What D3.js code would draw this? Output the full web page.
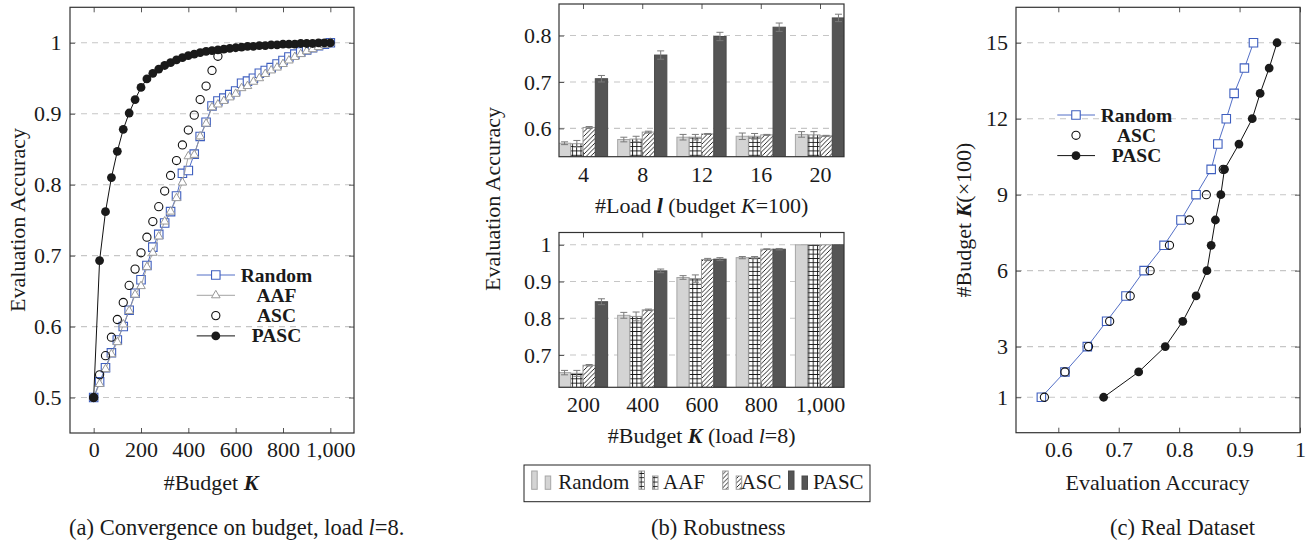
<!DOCTYPE html>
<html>
<head>
<meta charset="utf-8">
<script src="https://cdn.jsdelivr.net/npm/d3@7"></script>
<style>
  body { margin: 0; background: #fff; }
  svg text { font-family: "Liberation Serif", "Times New Roman", serif; fill: #1a1a1a; }
</style>
</head>
<body>
<div id="chart"></div>
<script>
// ---------- (a) convergence on budget ----------
const budgets = [0, 25, 50, 75, 100, 125, 150, 175, 200, 225, 250, 275, 300, 325, 350, 375, 400,
  425, 450, 475, 500, 525, 550, 575, 600, 625, 650, 675, 700, 725, 750, 775, 800, 825, 850, 875,
  900, 925, 950, 975, 1000];
const randomAcc = [0.5, 0.522, 0.542, 0.563, 0.581, 0.600, 0.623, 0.647, 0.666, 0.686, 0.712, 0.730,
  0.746, 0.762, 0.784, 0.816, 0.820, 0.843, 0.868, 0.888, 0.911, 0.918, 0.922, 0.927, 0.932, 0.943,
  0.946, 0.950, 0.957, 0.961, 0.965, 0.970, 0.975, 0.980, 0.984, 0.987, 0.990, 0.993, 0.996, 0.998, 1.0];
const aafAcc = [0.5, 0.519, 0.540, 0.561, 0.578, 0.603, 0.622, 0.645, 0.657, 0.684, 0.704, 0.727,
  0.748, 0.762, 0.781, 0.803, 0.840, 0.842, 0.868, 0.886, 0.909, 0.913, 0.918, 0.923, 0.928, 0.936,
  0.939, 0.945, 0.950, 0.956, 0.961, 0.965, 0.970, 0.975, 0.980, 0.984, 0.988, 0.991, 0.994, 0.997, 1.0];
const ascAcc = [0.5, 0.532, 0.559, 0.585, 0.610, 0.634, 0.658, 0.681, 0.704, 0.726, 0.748, 0.769,
  0.791, 0.813, 0.834, 0.856, 0.877, 0.898, 0.920, 0.939, 0.961, 0.981];
const pascAcc = [0.5, 0.693, 0.762, 0.810, 0.847, 0.878, 0.901, 0.920, 0.937, 0.949, 0.957, 0.963,
  0.968, 0.972, 0.976, 0.979, 0.982, 0.984, 0.986, 0.988, 0.989, 0.990, 0.991, 0.992, 0.993, 0.994,
  0.995, 0.995, 0.996, 0.996, 0.997, 0.997, 0.998, 0.998, 0.998, 0.999, 0.999, 0.999, 1.0, 1.0, 1.0];
const methods = ["Random", "AAF", "ASC", "PASC"];
const ticksAx = [0, 200, 400, 600, 800, 1000];
const ticksAy = [0.5, 0.6, 0.7, 0.8, 0.9, 1];

// ---------- (b) robustness ----------
const loads = ["4", "8", "12", "16", "20"];
const loadRandom = [0.568, 0.576, 0.581, 0.583, 0.587];
const loadAAF = [0.567, 0.577, 0.581, 0.583, 0.586];
const loadASC = [0.602, 0.592, 0.588, 0.586, 0.584];
const loadPASC = [0.707, 0.758, 0.798, 0.818, 0.838];
const loadErrRandom = [0.003, 0.005, 0.006, 0.007, 0.006];
const loadErrAAF = [0.007, 0.006, 0.006, 0.006, 0.007];
const loadErrASC = [0.002, 0.002, 0.001, 0.001, 0.001];
const loadErrPASC = [0.007, 0.009, 0.009, 0.009, 0.008];

const budgetCats = [200, 400, 600, 800, 1000];
const budRandom = [0.652, 0.808, 0.911, 0.965, 1.0];
const budAAF = [0.650, 0.805, 0.908, 0.965, 1.0];
const budASC = [0.672, 0.823, 0.960, 0.988, 1.0];
const budPASC = [0.845, 0.929, 0.961, 0.988, 1.0];
const budErrRandom = [0.006, 0.008, 0.005, 0.003, 0];
const budErrAAF = [0.008, 0.012, 0.010, 0.003, 0];
const budErrASC = [0.002, 0.002, 0.003, 0.001, 0];
const budErrPASC = [0.008, 0.005, 0.004, 0.002, 0];
const ticksBtop = [0.6, 0.7, 0.8];
const ticksBbot = [0.7, 0.8, 0.9, 1];

// ---------- (c) real dataset ----------
const realBudget = [1, 2, 3, 4, 5, 6, 7, 8, 9, 10, 11, 12, 13, 14, 15];
const realRandom = [0.572, 0.611, 0.648, 0.680, 0.712, 0.742, 0.775, 0.803, 0.828, 0.853, 0.864,
  0.878, 0.891, 0.908, 0.923];
const realASC = [0.577, 0.611, 0.650, 0.685, 0.719, 0.752, 0.784, 0.817, 0.845, 0.873];
const realPASC = [0.675, 0.733, 0.777, 0.806, 0.828, 0.846, 0.853, 0.860, 0.869, 0.875, 0.899,
  0.921, 0.934, 0.949, 0.962];
const ticksCx = [0.6, 0.7, 0.8, 0.9, 1];
const ticksCy = [1, 3, 6, 9, 12, 15];

const blue = "#3f5fbf";
const fs = 22;

const svg = d3.select("#chart").append("svg")
    .attr("width", 1311)
    .attr("height", 544)
    .style("background", "#fff");

const defs = svg.append("defs");
const pg = defs.append("pattern").attr("id", "gridPat")
    .attr("patternUnits", "userSpaceOnUse").attr("width", 4.3).attr("height", 4.3);
pg.append("rect").attr("width", 4.3).attr("height", 4.3).attr("fill", "#fff");
pg.append("path").attr("d", "M0,0.5H4.3M0.5,0V4.3").attr("stroke", "#111").attr("stroke-width", 0.9);
const ph = defs.append("pattern").attr("id", "hatchPat")
    .attr("patternUnits", "userSpaceOnUse").attr("width", 4.5).attr("height", 4.5);
ph.append("rect").attr("width", 4.5).attr("height", 4.5).attr("fill", "#fff");
ph.append("path").attr("d", "M-1,1L1,-1M0,4.5L4.5,0M3.5,5.5L5.5,3.5")
    .attr("stroke", "#111").attr("stroke-width", 0.9);

const fmt1 = d => d === 1 ? "1" : d3.format(".1f")(d);

function addGrid(g, x, y, yTicks) {
    const [xl, xr] = x.range();
    g.append("g").selectAll("line").data(yTicks).join("line")
        .attr("x1", xl).attr("x2", xr)
        .attr("y1", d => y(d)).attr("y2", d => y(d))
        .attr("stroke", "#c6c6c6").attr("stroke-width", 1.1)
        .attr("stroke-dasharray", "6,5");
}

function styleAxis(a) {
    a.select(".domain").remove();
    a.selectAll("line").attr("stroke", "#555");
    a.selectAll("text").attr("font-size", fs).attr("fill", "#1a1a1a");
}

function addFrame(g, x, y, xTicks, yTicks, xFmt, yFmt, xPad, yPad) {
    const [xl, xr] = x.range(), [yb, yt] = y.range();
    g.append("g").attr("transform", `translate(0,${yb})`)
        .call(d3.axisBottom(x).tickValues(xTicks).tickFormat(xFmt)
            .tickSizeInner(-5).tickSizeOuter(0).tickPadding(xPad))
        .call(styleAxis);
    g.append("g").attr("transform", `translate(0,${yt})`)
        .call(d3.axisTop(x).tickValues(xTicks).tickFormat("").tickSizeInner(-5).tickSizeOuter(0))
        .call(styleAxis);
    g.append("g").attr("transform", `translate(${xl},0)`)
        .call(d3.axisLeft(y).tickValues(yTicks).tickFormat(yFmt)
            .tickSizeInner(-5).tickSizeOuter(0).tickPadding(yPad))
        .call(styleAxis);
    g.append("g").attr("transform", `translate(${xr},0)`)
        .call(d3.axisRight(y).tickValues(yTicks).tickFormat("").tickSizeInner(-5).tickSizeOuter(0))
        .call(styleAxis);
    g.append("rect")
        .attr("x", xl).attr("y", yt).attr("width", xr - xl).attr("height", yb - yt)
        .attr("fill", "none").attr("stroke", "#333").attr("stroke-width", 1.2);
}

// rich text: parts = [[text, style], ...]
function richText(parent, parts) {
    parts.forEach(([t, st]) => {
        const s = parent.append("tspan").text(t);
        if (st === "bi") s.attr("font-weight", "bold").attr("font-style", "italic");
        if (st === "i") s.attr("font-style", "italic");
        if (st === "b") s.attr("font-weight", "bold");
    });
    return parent;
}

function label(x, y, parts, rotate, size) {
    const t = svg.append("text")
        .attr("text-anchor", "middle")
        .attr("font-size", size || fs)
        .attr("transform", `translate(${x},${y})` + (rotate ? " rotate(-90)" : ""));
    return richText(t, parts);
}

const sym = (type, size) => d3.symbol().type(type).size(size)();

// ======================= panel (a) =======================
const xA = d3.scaleLinear().domain([-100, 1100]).range([70, 354]);
const yA = d3.scaleLinear().domain([0.45, 1.05]).range([433, 7.3]);
const gA = svg.append("g");
addGrid(gA, xA, yA, ticksAy);

const lineA = d3.line().x(d => xA(d[0])).y(d => yA(d[1]));
const pts = arr => arr.map((v, i) => [budgets[i], v]);

// Random
gA.append("path").datum(pts(randomAcc)).attr("d", lineA)
    .attr("fill", "none").attr("stroke", blue).attr("stroke-width", 0.9);
gA.append("g").selectAll("path").data(pts(randomAcc)).join("path")
    .attr("transform", d => `translate(${xA(d[0])},${yA(d[1])})`)
    .attr("d", sym(d3.symbolSquare, 72))
    .attr("fill", "#fff").attr("stroke", blue).attr("stroke-width", 1.1);
// AAF
gA.append("path").datum(pts(aafAcc)).attr("d", lineA)
    .attr("fill", "none").attr("stroke", "#999").attr("stroke-width", 0.9);
gA.append("g").selectAll("path").data(pts(aafAcc)).join("path")
    .attr("transform", d => `translate(${xA(d[0])},${yA(d[1])})`)
    .attr("d", sym(d3.symbolTriangle, 32))
    .attr("fill", "#fff").attr("stroke", "#999").attr("stroke-width", 1);
// ASC
gA.append("g").selectAll("circle").data(pts(ascAcc)).join("circle")
    .attr("cx", d => xA(d[0])).attr("cy", d => yA(d[1])).attr("r", 4.1)
    .attr("fill", "none").attr("stroke", "#111").attr("stroke-width", 1.1);
// PASC
gA.append("path").datum(pts(pascAcc)).attr("d", lineA)
    .attr("fill", "none").attr("stroke", "#111").attr("stroke-width", 1);
gA.append("g").selectAll("circle").data(pts(pascAcc)).join("circle")
    .attr("cx", d => xA(d[0])).attr("cy", d => yA(d[1])).attr("r", 4.4)
    .attr("fill", "#1a1a1a");

addFrame(gA, xA, yA, ticksAx, ticksAy, d3.format(","), fmt1, 8.5, 8.5);

// legend (a)
const legA = svg.append("g");
methods.forEach((m, i) => {
    const ly = 275 + i * 20.3;
    const g = legA.append("g").attr("transform", `translate(0,${ly})`);
    if (m === "Random") {
        g.append("line").attr("x1", 196.7).attr("x2", 235).attr("stroke", blue).attr("stroke-width", 0.9);
        g.append("path").attr("transform", "translate(215.8,0)").attr("d", sym(d3.symbolSquare, 72))
            .attr("fill", "#fff").attr("stroke", blue).attr("stroke-width", 1.1);
    } else if (m === "AAF") {
        g.append("line").attr("x1", 196.7).attr("x2", 235).attr("stroke", "#999").attr("stroke-width", 0.9);
        g.append("path").attr("transform", "translate(215.8,0)").attr("d", sym(d3.symbolTriangle, 32))
            .attr("fill", "#fff").attr("stroke", "#999");
    } else if (m === "ASC") {
        g.append("circle").attr("cx", 215.8).attr("r", 4.1).attr("fill", "none")
            .attr("stroke", "#111").attr("stroke-width", 1.1);
    } else {
        g.append("line").attr("x1", 196.7).attr("x2", 235).attr("stroke", "#111");
        g.append("circle").attr("cx", 215.8).attr("r", 4.4).attr("fill", "#1a1a1a");
    }
    g.append("text").attr("x", 276.5).attr("y", 6.5).attr("text-anchor", "middle")
        .attr("font-size", 19.5).attr("font-weight", "bold").text(m);
});

label(25, 220, [["Evaluation Accuracy"]], true);
label(211, 490, [["#Budget "], ["K", "bi"]]);
label(236.7, 535, [["(a) Convergence on budget, load "], ["l", "i"], ["=8."]], false, 22.5);

// ======================= panel (b) =======================
const barStyles = [
    { fill: "#d4d4d4", stroke: "#a6a6a6" },
    { fill: "url(#gridPat)", stroke: "#9a9a9a" },
    { fill: "url(#hatchPat)", stroke: "#9a9a9a" },
    { fill: "#555", stroke: "#4a4a4a" }
];
const bw = 12.3;

function drawBars(g, x, y, cats, series, errs, clipId) {
    const yb = y.range()[0], yt = y.range()[1];
    const [xl, xr] = x.range();
    defs.append("clipPath").attr("id", clipId).append("rect")
        .attr("x", xl).attr("y", yt).attr("width", xr - xl).attr("height", yb - yt);
    const gb = g.append("g").attr("clip-path", `url(#${clipId})`);
    series.forEach((vals, i) => {
        const off = (i - 2) * bw;
        const data = vals.map((v, j) => ({ c: cats[j], v: v, e: errs[i][j] }));
        gb.append("g").selectAll("rect").data(data).join("rect")
            .attr("x", d => x(d.c) + off)
            .attr("y", d => y(d.v))
            .attr("width", bw)
            .attr("height", d => yb - y(d.v))
            .attr("fill", barStyles[i].fill)
            .attr("stroke", barStyles[i].stroke)
            .attr("stroke-width", 1);
        const eb = gb.append("g").selectAll("g").data(data.filter(d => d.e > 0)).join("g")
            .attr("stroke", "#7a7a7a").attr("stroke-width", 1);
        eb.append("line")
            .attr("x1", d => x(d.c) + off + bw / 2).attr("x2", d => x(d.c) + off + bw / 2)
            .attr("y1", d => y(d.v - d.e)).attr("y2", d => y(d.v + d.e));
        eb.append("line")
            .attr("x1", d => x(d.c) + off + bw / 2 - 3.5).attr("x2", d => x(d.c) + off + bw / 2 + 3.5)
            .attr("y1", d => y(d.v + d.e)).attr("y2", d => y(d.v + d.e));
        eb.append("line")
            .attr("x1", d => x(d.c) + off + bw / 2 - 3.5).attr("x2", d => x(d.c) + off + bw / 2 + 3.5)
            .attr("y1", d => y(d.v - d.e)).attr("y2", d => y(d.v - d.e));
    });
}

// top subplot
const xBt = d3.scalePoint().domain(loads).range([559, 844]).padding(0.405);
const yBt = d3.scaleLinear().domain([0.539, 0.868]).range([156.7, 4]);
const gBt = svg.append("g");
addGrid(gBt, xBt, yBt, ticksBtop);
drawBars(gBt, xBt, yBt, loads,
    [loadRandom, loadAAF, loadASC, loadPASC],
    [loadErrRandom, loadErrAAF, loadErrASC, loadErrPASC], "clipBt");
addFrame(gBt, xBt, yBt, loads, ticksBtop, d => d, fmt1, 9.2, 7.5);

// bottom subplot
const xBb = d3.scalePoint().domain(budgetCats).range([559, 844]).padding(0.405);
const yBb = d3.scaleLinear().domain([0.612, 1.0335]).range([387.3, 232.5]);
const gBb = svg.append("g");
addGrid(gBb, xBb, yBb, ticksBbot);
drawBars(gBb, xBb, yBb, budgetCats,
    [budRandom, budAAF, budASC, budPASC],
    [budErrRandom, budErrAAF, budErrASC, budErrPASC], "clipBb");
addFrame(gBb, xBb, yBb, budgetCats, ticksBbot, d3.format(","), fmt1, 8.8, 7.5);

label(500, 199, [["Evaluation Accuracy"]], true);
label(701.7, 213, [["#Load "], ["l", "bi"], [" (budget "], ["K", "i"], ["=100)"]]);
label(701.7, 443, [["#Budget "], ["K", "bi"], [" (load "], ["l", "i"], ["=8)"]]);

// legend (b)
const legB = svg.append("g");
legB.append("rect").attr("x", 524).attr("y", 465).attr("width", 346).attr("height", 36.7)
    .attr("fill", "#fff").attr("stroke", "#222").attr("stroke-width", 1);
const legBpos = [531.7, 639, 722.7, 788.5];
const legBtext = [558.3, 663, 740.7, 813];
methods.forEach((m, i) => {
    legB.append("rect").attr("x", legBpos[i]).attr("y", 471).attr("width", 5.5).attr("height", 18.3)
        .attr("fill", barStyles[i].fill).attr("stroke", barStyles[i].stroke);
    legB.append("rect").attr("x", legBpos[i] + 13.5).attr("y", 476).attr("width", 5.5).attr("height", 13.3)
        .attr("fill", barStyles[i].fill).attr("stroke", barStyles[i].stroke);
    legB.append("text").attr("x", legBtext[i]).attr("y", 489.3).attr("font-size", 21).text(m);
});

label(718.3, 535, [["(b) Robustness"]], false, 22.5);

// ======================= panel (c) =======================
const xC = d3.scaleLinear().domain([0.53, 1.0]).range([1016, 1300]);
const yC = d3.scaleLinear().domain([-0.4, 16.4]).range([432.7, 7.3]);
const gC = svg.append("g");
addGrid(gC, xC, yC, ticksCy);

const lineC = d3.line().x(d => xC(d[0])).y(d => yC(d[1]));
const ptsC = arr => arr.map((v, i) => [v, realBudget[i]]);

gC.append("path").datum(ptsC(realRandom)).attr("d", lineC)
    .attr("fill", "none").attr("stroke", blue).attr("stroke-width", 0.9);
gC.append("g").selectAll("path").data(ptsC(realRandom)).join("path")
    .attr("transform", d => `translate(${xC(d[0])},${yC(d[1])})`)
    .attr("d", sym(d3.symbolSquare, 72))
    .attr("fill", "#fff").attr("stroke", blue).attr("stroke-width", 1.1);
gC.append("g").selectAll("circle").data(ptsC(realASC)).join("circle")
    .attr("cx", d => xC(d[0])).attr("cy", d => yC(d[1])).attr("r", 4.1)
    .attr("fill", "none").attr("stroke", "#111").attr("stroke-width", 1.1);
gC.append("path").datum(ptsC(realPASC)).attr("d", lineC)
    .attr("fill", "none").attr("stroke", "#111").attr("stroke-width", 1);
gC.append("g").selectAll("circle").data(ptsC(realPASC)).join("circle")
    .attr("cx", d => xC(d[0])).attr("cy", d => yC(d[1])).attr("r", 4.4)
    .attr("fill", "#1a1a1a");

addFrame(gC, xC, yC, ticksCx, ticksCy, fmt1, d => d, 8.4, 8);

// legend (c)
const legC = svg.append("g");
["Random", "ASC", "PASC"].forEach((m, i) => {
    const g = legC.append("g").attr("transform", `translate(0,${115 + i * 20.3})`);
    if (m === "Random") {
        g.append("line").attr("x1", 1057.3).attr("x2", 1095).attr("stroke", blue).attr("stroke-width", 0.9);
        g.append("path").attr("transform", "translate(1076,0)").attr("d", sym(d3.symbolSquare, 72))
            .attr("fill", "#fff").attr("stroke", blue).attr("stroke-width", 1.1);
    } else if (m === "ASC") {
        g.append("circle").attr("cx", 1076).attr("r", 4.1).attr("fill", "none")
            .attr("stroke", "#111").attr("stroke-width", 1.1);
    } else {
        g.append("line").attr("x1", 1057.3).attr("x2", 1095).attr("stroke", "#111");
        g.append("circle").attr("cx", 1076).attr("r", 4.4).attr("fill", "#1a1a1a");
    }
    g.append("text").attr("x", 1136.5).attr("y", 6.5).attr("text-anchor", "middle")
        .attr("font-size", 19.5).attr("font-weight", "bold").text(m);
});

label(971, 220, [["#Budget "], ["K", "bi"], ["(×100)"]], true);
label(1157.5, 490, [["Evaluation Accuracy"]]);
label(1182.5, 535, [["(c) Real Dataset"]], false, 22.5);
</script>
</body>
</html>
